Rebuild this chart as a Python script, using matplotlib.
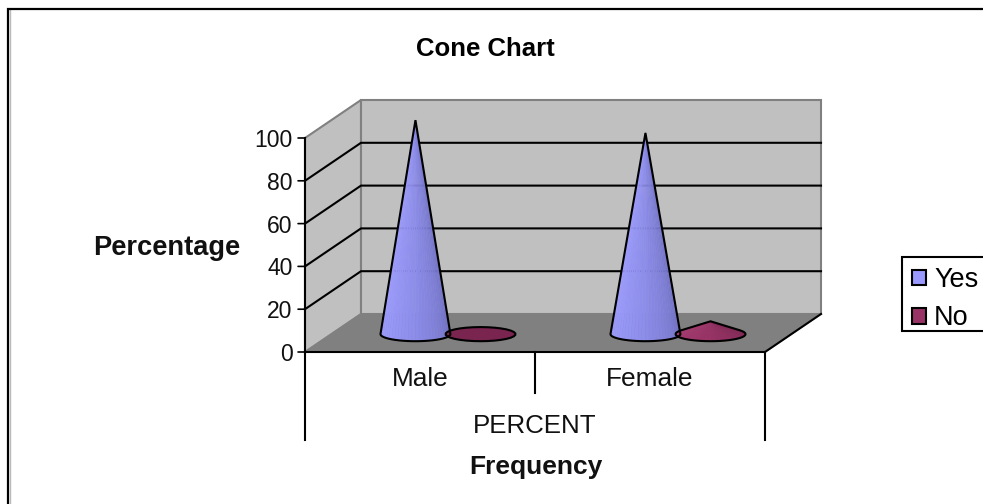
import numpy as np
import matplotlib
matplotlib.use('Agg')
import matplotlib.pyplot as plt
from matplotlib.patches import Polygon, Patch, Rectangle
from matplotlib.lines import Line2D

plt.rcParams['font.family'] = ['Liberation Sans', 'DejaVu Sans']

# Data
categories = ['Male', 'Female']
series_names = ['Yes', 'No']
yes_values = [100, 94]
no_values = [0, 6]
y_ticks = [0, 20, 40, 60, 80, 100]

# Look of the fake 3D box (depth in axis units)
W, H = 983, 504
depth_x = 56 / 230
depth_y = 38 / 2.14
cone_rx = 0.152
cone_ry = 3.3
series_offset = 0.1415
yes_colors = ('#9C9CFF', '#6E6EC0')
no_colors = ('#A63A70', '#7A2450')

fig = plt.figure(figsize=(W / 100, H / 100), dpi=100)
ax = fig.add_axes([305 / W, 1 - 352 / H, 460 / W, 214 / H])
ax.set_xlim(0, 2)
ax.set_ylim(0, 100)
ax.axis('off')

# Side wall, back wall, floor
ax.add_patch(Polygon([(0, 0), (depth_x, depth_y), (depth_x, 100 + depth_y), (0, 100)],
                     fc='#C0C0C0', ec='#808080', lw=1.5, clip_on=False, zorder=1))
ax.add_patch(Polygon([(depth_x, depth_y), (2 + depth_x, depth_y), (2 + depth_x, 100 + depth_y), (depth_x, 100 + depth_y)],
                     fc='#C0C0C0', ec='#808080', lw=1.5, clip_on=False, zorder=1))
ax.add_patch(Polygon([(0, 0), (2, 0), (2 + depth_x, depth_y), (depth_x, depth_y)],
                     fc='#808080', ec='#808080', lw=1, clip_on=False, zorder=2))

# Gridlines run along the side wall and the back wall
for v in y_ticks[1:-1]:
    ax.plot([0, depth_x, 2 + depth_x], [v, v + depth_y, v + depth_y], color='black', lw=1.5,
            clip_on=False, zorder=3, solid_joinstyle='miter')

# Axis lines and ticks
ax.plot([0, 0], [0, 100], color='black', lw=1.5, clip_on=False, zorder=6)
ax.plot([0, 2, 2 + depth_x], [0, 0, depth_y], color='black', lw=1.5, clip_on=False, zorder=6)
for v in y_ticks:
    ax.annotate('', xy=(0, v), xytext=(-5, 0), textcoords=('offset points'),
                arrowprops=dict(arrowstyle='-', lw=1.2, color='black', shrinkA=0, shrinkB=0),
                annotation_clip=False)
    ax.annotate(str(v), xy=(0, v), xytext=(-9, -1.8), textcoords='offset points', ha='right', va='center',
                fontsize=16.5, color='#111111', annotation_clip=False)

# Multi level category axis below the floor
trans = ax.get_xaxis_transform()
level_2 = -88 / 214
level_1 = -41 / 214
for x, low in [(0, level_2), (1, level_1), (2, level_2)]:
    ax.plot([x, x], [0, low], transform=trans, color='black', lw=1.5, clip_on=False, zorder=6)
for i, name in enumerate(categories):
    ax.text(i + 0.5, -27 / 214, name, transform=trans, ha='center', va='center', fontsize=18.9, color='#111111')
ax.text(1, -74 / 214, 'PERCENT', transform=trans, ha='center', va='center', fontsize=18.6, color='#111111')


def mix(c1, c2, t):
    a = np.array(matplotlib.colors.to_rgb(c1))
    b = np.array(matplotlib.colors.to_rgb(c2))
    return a + (b - a) * t


def draw_cone(cx, value, colors):
    cy = depth_y * 0.47
    if value > cone_ry:
        t0 = np.arcsin(cone_ry / value)
    else:
        t0 = np.pi / 2
    t = np.linspace(np.pi - t0, 2 * np.pi + t0, 31)
    px = cx + cone_rx * np.cos(t)
    py = cy + cone_ry * np.sin(t)
    tip = (cx, cy + value)
    if value > cone_ry:
        for i in range(len(t) - 1):
            c = mix(colors[0], colors[1], (i / (len(t) - 2)) ** 1.5)
            ax.add_patch(Polygon([tip, (px[i], py[i]), (px[i + 1], py[i + 1])], fc=c, ec=c, lw=0.3,
                                 clip_on=False, zorder=4))
        outline = [tip] + list(zip(px, py))
    else:
        outline = list(zip(px, py))
        ax.add_patch(Polygon(outline, fc=colors[1], ec='none', clip_on=False, zorder=4))
    ax.add_patch(Polygon(outline, closed=True, fc='none', ec='black', lw=1.5, clip_on=False, zorder=5))


for i in range(len(categories)):
    center = i + 0.5 + depth_x * 0.5
    draw_cone(center - series_offset, yes_values[i], yes_colors)
    draw_cone(center + series_offset, no_values[i], no_colors)

# Titles
fig.text(485 / W, 1 - 49 / H, 'Cone Chart', ha='center', va='center', fontsize=18.5, fontweight='bold')
fig.text(535.5 / W, 1 - 467 / H, 'Frequency', ha='center', va='center', fontsize=19, fontweight='bold', color='#111111')
fig.text(166.5 / W, 1 - 248 / H, 'Percentage', ha='center', va='center', fontsize=19.6, fontweight='bold', color='#111111')

# Legend, its right edge runs off the picture so the box is drawn by hand
fig.add_artist(Rectangle((902 / W, 1 - 331 / H), 100 / W, 74 / H, transform=fig.transFigure, fc='white', ec='black', lw=1.5))
handles = [Patch(fc='#9999FF', ec='black', lw=1.5, label=series_names[0]),
           Patch(fc='#993366', ec='black', lw=1.5, label=series_names[1])]
fig.legend(handles=handles, loc='upper left', bbox_to_anchor=(902 / W, 1 - 257 / H), fontsize=19.5, frameon=False,
           borderaxespad=0, borderpad=0.37, handlelength=0.52, handleheight=0.52, handletextpad=0.3, labelspacing=0.45)

# Outer chart border, only left and top are inside the picture
fig.add_artist(Line2D([9.5 / W, 9.5 / W], [0, 1 - 10 / H], color='#BBBBBB', lw=1))
fig.add_artist(Line2D([8 / W, 8 / W, 1], [0, 1 - 9 / H, 1 - 9 / H], color='black', lw=1.6, solid_joinstyle='miter'))

fig.savefig('out.png', dpi=100)
